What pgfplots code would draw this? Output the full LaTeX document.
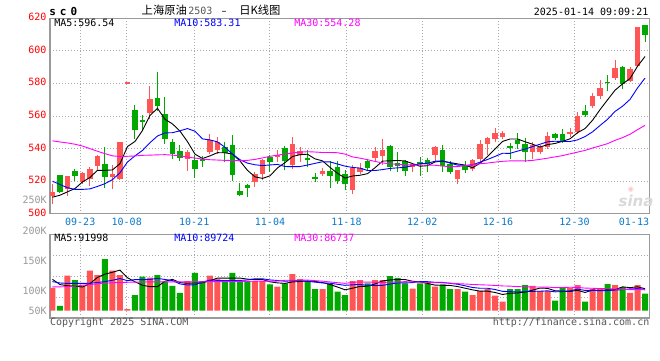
\documentclass[border=0pt]{standalone}
\usepackage{fontspec}
\usepackage{pgfplots}
\usepackage{pgfplotstable}
\pgfplotsset{compat=1.18}
\setmainfont{DejaVu Sans}
\setmonofont{DejaVu Sans Mono}
\newfontfamily\cjk{Noto Sans CJK SC}
\newfontfamily\sinaf{DejaVu Sans}
\newcommand\px[1]{\fontsize{#1}{#1}\selectfont}

\definecolor{cR}{HTML}{FF5555}
\definecolor{cG}{HTML}{00A800}
\definecolor{cB}{HTML}{0000FF}
\definecolor{cM}{HTML}{FF00FF}
\definecolor{cGrid}{HTML}{AAAAAA}
\definecolor{cBorder}{HTML}{9A9A9A}
\definecolor{cLab}{HTML}{FF0000}
\definecolor{cDate}{HTML}{0A78C8}
\definecolor{cVol}{HTML}{999999}
\definecolor{cCopy}{HTML}{555555}

% red (up) candles: k open high low close
\pgfplotstableread{
k o h l c
0 510.8 518.6 506.3 513.5
2 515.1 523.3 510.8 522.9
4 519.6 525.7 518.6 524.9
5 521.2 528.8 517.1 527.3
6 529.4 536.3 526.1 535.5
8 522.7 530.0 515.5 524.3
9 521.6 544.1 521.0 544.1
10 579.8 579.8 579.8 579.8
13 561.9 578.2 558.0 570.4
18 533.9 539.0 526.3 538.0
21 538.0 548.8 537.0 545.0
22 539.4 547.2 537.0 544.1
27 519.8 525.5 516.3 524.2
28 524.7 533.7 520.5 532.9
30 534.9 539.4 531.8 535.9
32 529.8 547.1 527.8 543.1
33 535.9 541.0 531.8 538.4
36 524.7 528.2 523.1 526.1
40 514.5 529.8 512.0 528.0
41 525.7 531.0 524.5 528.4
43 534.4 541.0 532.0 538.4
44 535.4 546.2 530.0 539.0
48 528.9 531.0 525.7 530.4
51 535.9 541.6 532.4 541.0
54 521.6 526.7 518.6 526.7
56 527.3 533.5 526.1 532.9
57 533.9 545.1 531.8 543.1
58 543.1 547.1 536.0 546.5
59 546.1 552.9 544.1 549.8
60 546.9 550.6 545.7 549.8
64 538.0 544.1 533.5 542.4
65 538.0 542.0 537.0 541.0
66 541.0 550.2 540.0 547.8
69 549.0 552.7 547.1 550.2
70 550.2 562.4 549.2 559.8
72 566.1 574.3 564.9 572.2
73 572.2 582.4 570.6 577.1
75 583.3 594.7 582.4 589.4
77 581.4 590.0 580.8 588.6
78 590.6 614.9 590.0 614.9
}\upK

% green (down) candles
\pgfplotstableread{
k o h l c
1 523.7 524.1 513.0 513.5
3 526.3 527.8 520.2 522.9
7 530.8 541.0 515.9 522.7
11 563.5 566.5 545.7 551.2
12 557.3 560.8 551.2 556.3
14 571.0 587.3 563.0 566.1
15 561.4 571.6 543.1 546.1
16 544.1 545.7 533.9 536.9
17 538.4 542.0 532.2 534.3
19 532.9 535.9 522.0 527.8
20 533.7 535.5 529.0 532.7
23 541.0 544.3 531.5 537.6
24 542.1 548.2 520.0 524.0
25 513.9 519.0 511.0 511.5
26 517.6 518.6 510.5 516.1
29 534.9 536.3 525.7 531.8
31 540.4 541.6 526.7 532.2
34 534.3 539.0 528.8 533.3
35 522.7 525.1 519.6 521.6
37 526.1 532.2 515.9 523.1
38 528.8 532.2 518.6 520.2
39 524.7 526.7 514.5 518.6
42 532.5 533.5 526.1 528.0
45 541.5 542.0 526.0 528.8
46 531.0 538.0 525.7 529.5
47 532.4 533.0 523.5 526.5
49 531.8 534.9 523.1 530.8
50 532.9 534.3 525.7 530.4
52 539.0 542.4 525.7 529.4
53 530.8 532.4 524.7 525.7
55 529.4 532.4 525.3 526.7
61 541.4 543.5 533.5 540.4
62 545.1 549.6 540.0 543.1
63 543.1 546.7 531.8 538.0
67 548.8 549.6 545.5 546.7
68 548.8 552.2 543.5 544.5
71 562.9 566.5 559.4 560.4
74 581.2 584.9 575.1 580.2
76 590.0 590.6 576.3 579.8
79 615.9 615.9 605.3 609.8
}\dnK

% price moving averages: k MA5 MA10 MA30
\pgfplotstableread{
k a b c
0 510.2 520.0 544.8
1 511.4 518.0 544.1
2 513.5 516.0 543.5
3 515.5 515.0 542.7
4 519.54 515.0 541.6
5 522.3 515.3 540.0
6 526.7 516.8 538.4
7 526.66 518.5 536.9
8 526.94 521.0 535.6
9 530.78 525.16 535.1
10 541.28 531.79 535.3
11 544.42 535.56 535.5
12 551.14 538.9 535.9
13 560.36 543.65 536.0
14 564.76 547.77 536.2
15 558.02 549.65 536.3
16 555.16 549.79 536.0
17 550.76 550.95 535.6
18 544.28 552.32 534.8
19 536.62 550.69 534.2
20 533.94 545.98 533.6
21 535.56 545.36 533.2
22 537.52 544.14 533.0
23 537.44 540.86 532.8
24 536.68 536.65 532.7
25 532.44 533.19 532.6
26 526.66 531.11 532.8
27 522.68 530.1 533.4
28 521.74 529.59 534.3
29 523.3 529.99 535.28
30 528.18 530.31 536.03
31 531.4 529.03 536.65
32 535.18 528.93 537.32
33 536.28 529.01 537.84
34 536.58 529.94 538.12
35 533.72 530.95 537.93
36 532.5 531.95 537.62
37 528.5 531.84 537.63
38 524.86 530.57 537.49
39 521.92 529.25 536.64
40 523.2 528.46 534.92
41 523.66 528.08 534.16
42 524.64 526.57 533.21
43 528.28 526.57 532.15
44 532.36 527.14 531.24
45 532.52 527.86 530.67
46 532.74 528.2 530.42
47 532.44 528.54 530.16
48 530.84 529.56 529.91
49 529.2 530.78 530.01
50 529.52 531.02 529.93
51 531.82 532.28 529.8
52 532.4 532.42 529.31
53 531.46 531.15 528.91
54 530.64 529.92 529.0
55 529.9 529.71 529.51
56 528.28 530.05 530.07
57 531.02 531.71 530.7
58 535.18 533.32 531.15
59 539.8 535.22 531.75
60 544.42 537.16 532.21
61 545.92 537.1 532.49
62 545.92 538.47 532.49
63 544.22 539.7 532.47
64 542.74 541.27 532.78
65 540.98 542.7 533.42
66 542.46 544.19 534.15
67 543.18 544.55 534.93
68 544.48 544.35 535.74
69 546.04 544.39 536.8
70 549.8 545.39 537.86
71 552.32 547.39 538.92
72 557.42 550.3 540.4
73 563.94 554.21 541.69
74 569.94 557.99 543.06
75 575.86 562.83 545.08
76 579.74 566.03 546.76
77 583.02 570.22 548.83
78 590.58 577.26 551.64
79 596.54 583.31 554.28
}\mainMA

% volume (thousand lots)
\pgfplotstableread{
k v
0 101
2 154
4 110
5 176
6 157
8 176
9 157
10 7.5
13 145
18 130
21 154
22 138
27 130
28 130
30 106
32 161
33 139
36 95
40 130
41 135
43 135
44 135
48 97
51 106
54 95
56 69
57 87
58 95
59 66
60 40
64 109
65 87
66 87
69 101
70 113
72 96
73 95
75 113
77 79
78 113
}\upV
\pgfplotstableread{
k v
1 21
3 135
7 227
11 69
12 150
14 157
15 128
16 109
17 79
19 166
20 130
23 130
24 166
25 130
26 130
29 116
31 120
34 130
35 95
37 117
38 84
39 69
42 120
45 152
46 144
47 120
49 120
50 120
52 116
53 95
55 84
61 95
62 95
63 113
67 44
68 104
71 40
74 117
76 104
79 75
}\dnV

% volume moving averages: k MA5 MA10 MA30
\pgfplotstableread{
k a b c
0 138 128 105
1 115 122 105
2 110 120 106
3 108 120 108
4 104.2 120 112
5 119.2 121 115
6 146.4 124 118
7 161 128 121
8 169.2 134 123
9 178.6 141.4 124
10 144.9 132.1 125
11 127.3 136.9 126
12 111.9 136.5 126
13 105.7 137.5 127
14 105.7 142.2 127
15 129.8 137.4 127
16 137.8 132.6 127
17 123.6 117.8 127
18 120.6 113.2 127
19 122.4 114.1 127
20 122.8 126.3 127
21 131.8 134.8 128
22 143.6 133.6 128
23 143.6 132.1 128
24 143.6 133 128
25 143.6 133.2 129
26 138.8 135.3 129
27 137.2 140.4 130
28 137.2 140.4 130
29 127.2 135.4 130.3
30 122.4 133 130.5
31 120.4 129.6 133.8
32 126.6 131.9 134
33 128.4 132.8 134.1
34 131.2 129.2 134.8
35 129 125.7 132.1
36 124 122.2 130
37 115.2 120.9 126.4
38 104.2 116.3 123.3
39 92 111.6 120.4
40 99 114 124.4
41 107 115.5 126.6
42 107.6 111.4 125.6
43 117.8 111 125.3
44 131 111.5 124.6
45 135.4 117.2 125.4
46 137.2 122.1 126.5
47 137.2 122.4 127.9
48 129.6 123.7 126.8
49 126.6 128.8 125.3
50 120.2 127.8 124.9
51 112.6 124.9 123.3
52 111.8 124.5 122.6
53 111.4 120.5 121.4
54 106.4 116.5 119.1
55 99.2 109.7 117.5
56 91.8 102.2 115.5
57 86 98.9 114.1
58 86 98.7 112.9
59 80.2 93.3 111.2
60 71.4 85.3 109
61 76.6 84.2 108.2
62 78.2 82.1 106
63 81.8 83.9 105.1
64 90.4 85.3 104.4
65 99.8 85.6 104.2
66 98.2 87.4 103.9
67 88 83.1 101.5
68 86.2 84 102.1
69 84.6 87.5 103.2
70 89.8 94.8 102.6
71 80.4 89.3 99.5
72 90.8 89.4 98.7
73 89 87.6 97.3
74 92.2 88.4 96.7
75 92.2 91 95.4
76 105 92.7 94.1
77 101.6 96.2 92.7
78 105.2 97.1 93.3
79 96.8 94.5 91.8
}\volMA

\pgfplotsset{
  kbase/.style={
    scale only axis, anchor=south west,
    xmin=-0.33, xmax=79.57,
    axis line style={draw=cBorder, line width=1.3pt},
    xtick={3.7,9.9,18.9,29.0,39.2,49.3,59.4,69.6},
    major tick length=0pt,
    xmajorgrids, ymajorgrids,
    grid style={color=cGrid, line width=1pt, dash pattern=on 1pt off 2pt},
  },
  wick/.style={draw=none, mark=none, forget plot,
    error bars/.cd, y dir=plus, y explicit, error mark=none,
    error bar style={line width=1pt, draw=#1}},
  body/.style={draw=none, mark=none, forget plot,
    error bars/.cd, y dir=plus, y explicit, error mark=none,
    error bar style={line width=5.7pt, draw=#1}},
}

\begin{document}
\begin{tikzpicture}
\useasboundingbox (0pt,0pt) rectangle (660pt,360pt);

% ---------------- price panel ----------------
\begin{axis}[kbase,
  at={(50pt,146.2pt)}, width=599.3pt, height=195.5pt,
  ymin=500, ymax=620,
  xticklabels={09-23,10-08,10-21,11-04,11-18,12-02,12-16,12-30},
  extra x ticks={77.53}, extra x tick labels={01-13},
  extra x tick style={grid=none},
  ytick={500,520,540,560,580,600,620},
  yticklabels={500,520,540,560,580,600,620},
  xticklabel style={font=\ttfamily\px{10}, text=cDate, anchor=base, inner sep=0pt, yshift=-11.2pt},
  yticklabel style={font=\ttfamily\px{10}, text=cLab, anchor=base east, inner sep=0pt, xshift=-3.3pt, yshift=-2.4pt},
]
\addplot[wick=cR] table[x=k, y=l, y error expr=\thisrow{h}-\thisrow{l}] {\upK};
\addplot[body=cR] table[x=k, y=o, y error expr={max(\thisrow{c}-\thisrow{o},0.85)}] {\upK};
\addplot[wick=cG] table[x=k, y=l, y error expr=\thisrow{h}-\thisrow{l}] {\dnK};
\addplot[body=cG] table[x=k, y=c, y error expr={max(\thisrow{o}-\thisrow{c},0.85)}] {\dnK};
\addplot[black, line width=0.9pt, no marks] table[x=k, y=a] {\mainMA};
\addplot[cB, line width=0.9pt, no marks] table[x=k, y=b] {\mainMA};
\addplot[cM, line width=0.9pt, no marks] table[x=k, y=c] {\mainMA};
\end{axis}

% ---------------- volume panel ----------------
\begin{axis}[kbase,
  at={(50pt,42pt)}, width=599.3pt, height=83.7pt,
  ymin=-32, ymax=336,
  ytick={60,152,244},
  xticklabels={,,,,,,,}, yticklabels={,,},
]
\addplot[ybar, bar width=6pt, bar shift=0pt, fill=cR, draw=none] table[x=k, y=v] {\upV};
\addplot[ybar, bar width=6pt, bar shift=0pt, fill=cG, draw=none] table[x=k, y=v] {\dnV};
\addplot[black, line width=0.9pt, no marks] table[x=k, y=a] {\volMA};
\addplot[cB, line width=0.9pt, no marks] table[x=k, y=b] {\volMA};
\addplot[cM, line width=0.9pt, no marks] table[x=k, y=c] {\volMA};
\end{axis}

% ---------------- texts ----------------
\begin{scope}[every node/.style={inner sep=0pt, outer sep=0pt}]
\node[anchor=base west, font=\ttfamily\bfseries\px{11}] at (49.3pt,345pt) {s\hspace{4pt}c\hspace{4pt}0};
\node[anchor=base west, font=\cjk\px{11.3}] at (141.7pt,345.6pt) {上海原油};
\node[anchor=base west, font=\ttfamily\px{10}, text=cCopy] at (188.3pt,345.2pt) {2503};
\node[anchor=base west, font=\sinaf\px{10}] at (221.5pt,345.5pt) {–};
\node[anchor=base west, font=\cjk\px{11.3}] at (239.3pt,345.6pt) {日K线图};
\node[anchor=base east, font=\ttfamily\px{10}] at (648.3pt,345pt) {2025-01-14 09:09:21};

\node[anchor=base west, font=\ttfamily\px{10}] at (54.3pt,333.3pt) {MA5:596.54};
\node[anchor=base west, font=\ttfamily\px{10}, text=cB] at (174.3pt,333.3pt) {MA10:583.31};
\node[anchor=base west, font=\ttfamily\px{10}, text=cM] at (294.3pt,333.3pt) {MA30:554.28};

\node[anchor=base west, font=\ttfamily\px{10}] at (54.3pt,118.3pt) {MA5:91998};
\node[anchor=base west, font=\ttfamily\px{10}, text=cB] at (174.3pt,118.3pt) {MA10:89724};
\node[anchor=base west, font=\ttfamily\px{10}, text=cM] at (294.3pt,118.3pt) {MA30:86737};

\node[anchor=base east, font=\ttfamily\px{10}, text=cVol] at (46.7pt,156.7pt) {250K};
\node[anchor=base east, font=\ttfamily\px{10}, text=cVol] at (46.7pt,126pt) {200K};
\node[anchor=base east, font=\ttfamily\px{10}, text=cVol] at (46.7pt,96pt) {150K};
\node[anchor=base east, font=\ttfamily\px{10}, text=cVol] at (46.7pt,66pt) {100K};
\node[anchor=base east, font=\ttfamily\px{10}, text=cVol] at (46.7pt,46pt) {50K};

\node[anchor=base west, font=\ttfamily\px{10}, text=cCopy] at (50pt,35pt) {Copyright 2025 SINA.COM};
\node[anchor=base east, font=\ttfamily\px{10}, text=cCopy] at (649.3pt,35pt) {http://finance.sina.com.cn};

\node[anchor=base, font=\sinaf\px{7}, text=cR!35] at (631pt,168.5pt) {◉};
\node[anchor=base, font=\sinaf\bfseries\itshape\px{15}, text=gray!30] at (636pt,154pt) {sina};
\end{scope}
\end{tikzpicture}
\end{document}
